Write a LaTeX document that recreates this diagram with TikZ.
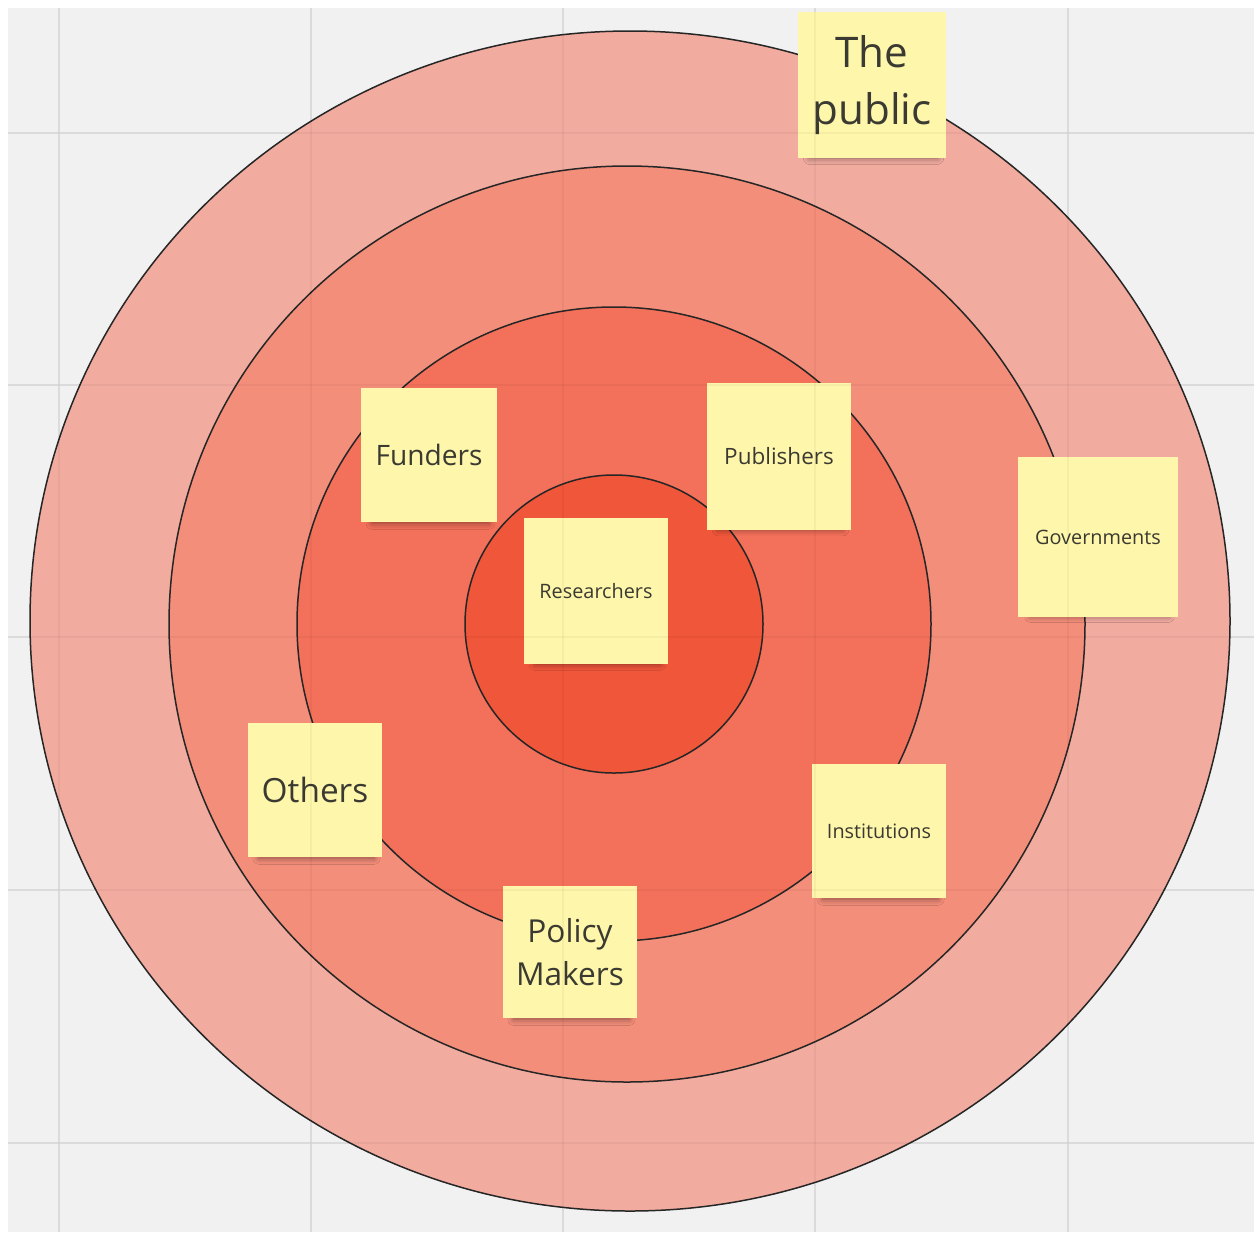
\documentclass[tikz,border=0pt]{standalone}
\usepackage{fontspec}
\setmainfont{Open Sans}
\usetikzlibrary{shadows.blur}
\definecolor{boardgray}{RGB}{241,241,241}
\definecolor{gridgray}{RGB}{228,228,228}
\definecolor{ringone}{RGB}{241,171,159}
\definecolor{ringtwo}{RGB}{243,142,122}
\definecolor{ringthree}{RGB}{243,112,90}
\definecolor{ringfour}{RGB}{240,86,58}
\definecolor{notefill}{RGB}{254,246,170}
\definecolor{notetext}{RGB}{58,58,50}

\begin{document}
\begin{tikzpicture}[
  x=0.02cm, y=-0.02cm,
  ring/.style={draw=black!85, line width=0.03cm},
  note/.style={fill=notefill, text=notetext, align=center, inner sep=0pt,
    minimum width=2.68cm, minimum height=2.68cm,
    blur shadow={shadow xshift=1pt, shadow yshift=-7pt, shadow scale=0.86, shadow opacity=45, shadow blur radius=4pt}},
  bignote/.style={note, font=\fontsize{16}{24}\selectfont},
  smallnote/.style={note, font=\fontsize{11.3}{14}\selectfont},
  gridline/.style={gridgray, line width=0.03cm}
]
\useasboundingbox (0,0) rectangle (1254,1232);
\fill[white] (0,0) rectangle (1254,1232);
\fill[boardgray] (8,8) rectangle (1254,1232);
\foreach \g in {59,311,563,815,1068} \draw[gridline] (\g,8) -- (\g,1232);
\foreach \g in {133,385,637,890,1143} \draw[gridline] (8,\g) -- (1254,\g);

\draw[ring, fill=ringone] (630,621) ellipse [x radius=600, y radius=590];
\draw[ring, fill=ringtwo] (627,624) circle [radius=458];
\draw[ring, fill=ringthree] (614,624) circle [radius=317];
\draw[ring, fill=ringfour] (614,624) circle [radius=149];

\node[note, minimum width=2.98cm, minimum height=2.92cm, font=\fontsize{24}{32}\selectfont] (public) at (872,85) {The\\public};
\node[bignote, minimum width=2.72cm] (funders) at (429,455) {Funders};
\node[smallnote, minimum width=2.9cm, minimum height=2.94cm, font=\fontsize{12.8}{15}\selectfont] (publishers) at (779,456) {Publishers};
\node[smallnote, minimum width=2.9cm, minimum height=2.92cm] (researchers) at (596,591) {Researchers};
\node[smallnote, minimum width=3.2cm, minimum height=3.2cm] (governments) at (1098,537) {Governments};
\node[bignote, font=\fontsize{19}{24}\selectfont] (others) at (315,790) {Others};
\node[bignote, minimum height=2.64cm, font=\fontsize{18}{24.4}\selectfont] (policy) at (570,952) {Policy\\Makers};
\node[smallnote] (institutions) at (879,831) {Institutions};

\foreach \g in {59,311,563,815,1068} \draw[black, opacity=0.035, line width=0.03cm] (\g,8) -- (\g,1232);
\foreach \g in {133,385,637,890,1143} \draw[black, opacity=0.035, line width=0.03cm] (8,\g) -- (1254,\g);
\end{tikzpicture}
\end{document}
